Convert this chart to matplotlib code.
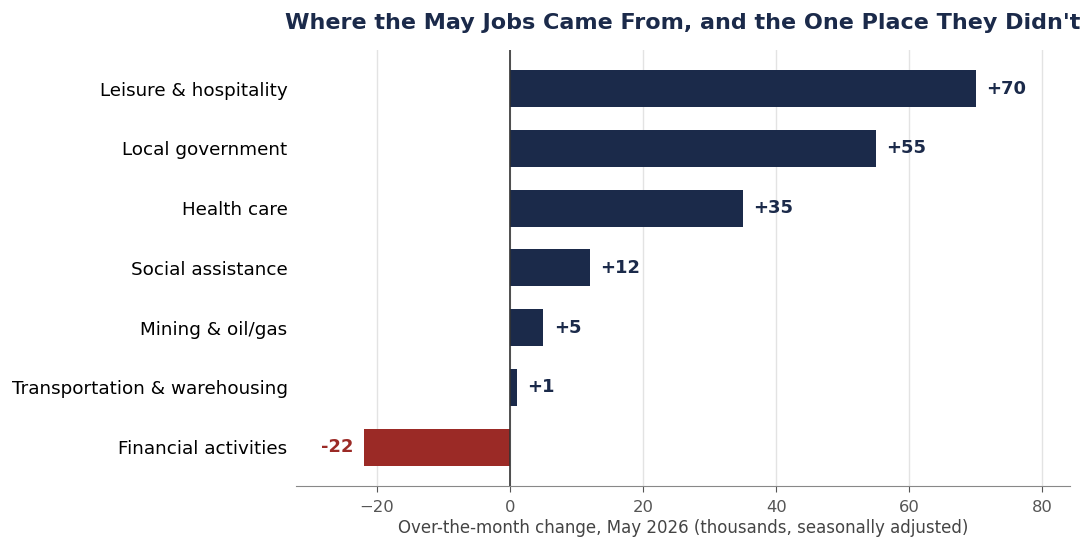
import matplotlib.pyplot as plt

categories = ["Leisure & hospitality", "Local government", "Health care",
              "Social assistance", "Mining & oil/gas",
              "Transportation & warehousing", "Financial activities"]
changes = [70, 55, 35, 12, 5, 1, -22]

navy = "#1b2a4a"
red = "#9b2a26"

fig = plt.figure(figsize=(10.92, 5.37), dpi=100)
ax = fig.add_axes([0.271, 0.095, 0.709, 0.812])

ypos = list(range(len(categories)))[::-1]
colors = [navy if v >= 0 else red for v in changes]
ax.barh(ypos, changes, height=0.62, color=colors, zorder=3)

for y, v, c in zip(ypos, changes, colors):
    lab = "%+d" % v
    if v >= 0:
        ax.text(v + 1.6, y, lab, va="center", ha="left", fontsize=13,
                fontweight="bold", color=c)
    else:
        ax.text(v - 1.6, y, lab, va="center", ha="right", fontsize=13,
                fontweight="bold", color=c)

ax.set_yticks(ypos)
ax.set_yticklabels(categories, fontsize=13.2)
ax.tick_params(axis="y", length=0, pad=6)
ax.tick_params(axis="x", colors="#555555", labelsize=11.8, length=4, pad=6)
ax.set_xlim(-32.2, 84.2)
ax.set_ylim(-0.65, 6.65)
ax.set_xticks([-20, 0, 20, 40, 60, 80])

ax.grid(axis="x", color="#e3e3e3", linewidth=1, zorder=0)
ax.axvline(0, color="#333333", linewidth=1.2, zorder=4)
for s in ["top", "right", "left"]:
    ax.spines[s].set_visible(False)
ax.spines["bottom"].set_color("#888888")

ax.set_xlabel("Over-the-month change, May 2026 (thousands, seasonally adjusted)",
              fontsize=12, color="#444444", labelpad=3)
ax.set_title("Where the May Jobs Came From, and the One Place They Didn't",
             fontsize=16, fontweight="bold", color=navy, pad=15)

fig.savefig("out.png", dpi=100)
